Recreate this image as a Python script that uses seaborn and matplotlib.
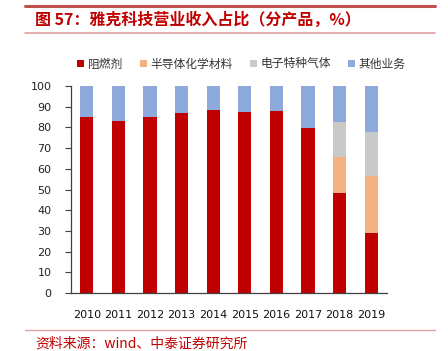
import numpy as np
import pandas as pd
import matplotlib
matplotlib.use("Agg")
import matplotlib.pyplot as plt
import seaborn as sns
from matplotlib.patches import Patch
from matplotlib.lines import Line2D

years = ["2010", "2011", "2012", "2013", "2014", "2015", "2016", "2017", "2018", "2019"]
flame = [85.1, 82.9, 85.1, 87.1, 88.5, 87.6, 88.0, 79.8, 48.1, 28.9]
semi = [0, 0, 0, 0, 0, 0, 0, 0, 17.5, 27.6]
gas = [0, 0, 0, 0, 0, 0, 0, 0, 17.0, 21.4]
other = [14.9, 17.1, 14.9, 12.9, 11.5, 12.4, 12.0, 20.2, 17.4, 22.1]
series_names = ["阻燃剂", "半导体化学材料", "电子特种气体", "其他业务"]
colors = ["#C00000", "#F4B183", "#C9C9C9", "#8EA9DB"]
yticks = [0, 10, 20, 30, 40, 50, 60, 70, 80, 90, 100]

sns.set_theme(style="white")
plt.rcParams['font.family'] = ['Noto Sans CJK SC', 'DejaVu Sans']

df = pd.DataFrame({"year": years, "flame": flame, "semi": semi, "gas": gas, "other": other})
df["c1"] = df["flame"]
df["c2"] = df["c1"] + df["semi"]
df["c3"] = df["c2"] + df["gas"]
df["c4"] = df["c3"] + df["other"]

fig = plt.figure(figsize=(4.48, 3.51), dpi=100)
ax = fig.add_axes([71/448, 1 - 293/351, (387-71)/448, (293-86)/351])

for col, c in zip(["c4", "c3", "c2", "c1"], colors[::-1]):
    sns.barplot(data=df, x="year", y=col, color=c, width=0.42, ax=ax,
                saturation=1, linewidth=0)

ax.set_ylim(0, 100)
ax.set_xlim(-0.5, 9.5)
ax.set_yticks(yticks)
ax.set_yticklabels([str(v) for v in yticks], fontsize=8, family='DejaVu Sans', color='#222222')
ax.set_xlabel("")
ax.set_ylabel("")
ax.set_xticks(range(len(years)))
ax.set_xticklabels(years, fontsize=8, family='DejaVu Sans', color='#111111')
ax.set_xticks(np.arange(-0.5, 10, 1), minor=True)
ax.tick_params(axis='x', which='major', length=0, pad=12)
ax.tick_params(axis='x', which='minor', length=4, width=0.8, color='#404040', direction='out')
ax.tick_params(axis='y', which='major', length=4, width=0.8, color='#404040', direction='out', left=True, pad=10)
for s in ["top", "right"]:
    ax.spines[s].set_visible(False)
for s in ["left", "bottom"]:
    ax.spines[s].set_color('#404040')
    ax.spines[s].set_linewidth(0.9)

handles = [Patch(facecolor=c, edgecolor='none') for c in colors]
fig.legend(handles, series_names, loc='center', bbox_to_anchor=(0.539, 1 - 64/351),
           ncol=4, frameon=False, fontsize=8.5, handlelength=0.6, handleheight=0.6,
           handletextpad=0.3, columnspacing=1.45, labelcolor='#333333')

# header lines and title
fig.add_artist(Line2D([25/448, 435/448], [1 - 6/351, 1 - 6/351], color='#C0504D', lw=2.2))
fig.add_artist(Line2D([25/448, 435/448], [1 - 33/351, 1 - 33/351], color='#E0A0A0', lw=1.2))
fig.text(35/448, 1 - 20/351, "图 57：雅克科技营业收入占比（分产品，%）", fontsize=11.5,
         fontweight='bold', color='#C00000', va='center', ha='left')
fig.add_artist(Line2D([25/448, 435/448], [1 - 330/351, 1 - 330/351], color='#E0A0A0', lw=1.0))
fig.text(35/448, 1 - 344/351, "资料来源：wind、中泰证券研究所", fontsize=10,
         color='#C00000', va='center', ha='left')

fig.savefig("out.png", dpi=100)
